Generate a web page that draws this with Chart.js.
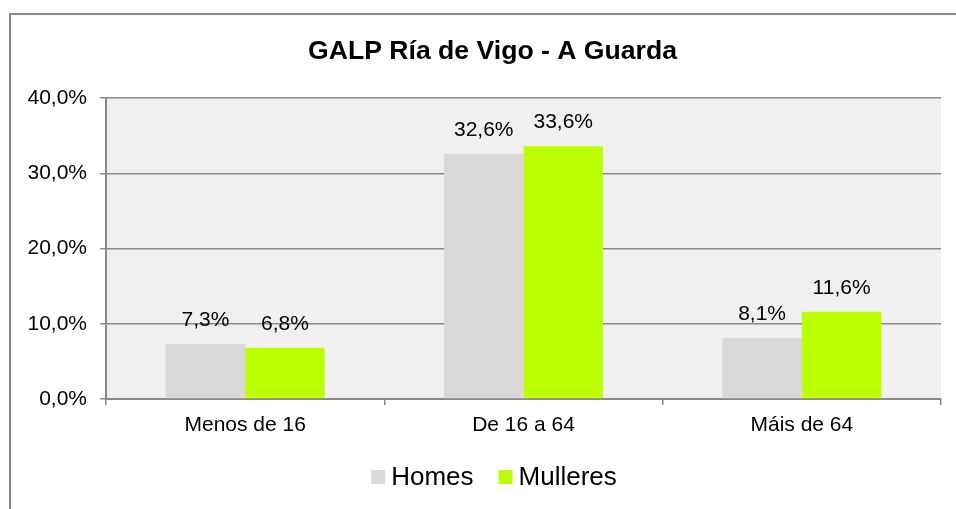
<!DOCTYPE html>
<html>
<head>
<meta charset="utf-8">
<script src="https://cdn.jsdelivr.net/npm/chart.js@4"></script>
<style>
  html, body { margin: 0; padding: 0; background: #ffffff; }
  canvas { display: block; }
</style>
</head>
<body>
<canvas id="c" width="956" height="509"></canvas>
<script>
const titleText = 'GALP Ría de Vigo - A Guarda';
const categories = ['Menos de 16', 'De 16 a 64', 'Máis de 64'];
const seriesNames = ['Homes', 'Mulleres'];
const homes = [7.3, 32.6, 8.1];
const mulleres = [6.8, 33.6, 11.6];
const yTicks = [0, 10, 20, 30, 40];
const colors = ['#d9d9d9', '#bbff00'];

const FONT = "'Liberation Sans', Arial, Helvetica, sans-serif";
const fmt = v => v.toFixed(1).replace('.', ',') + '%';

const framePlugin = {
  id: 'frame',
  beforeDraw(chart) {
    const ctx = chart.ctx;
    const a = chart.chartArea;
    ctx.save();
    ctx.fillStyle = '#ffffff';
    ctx.fillRect(0, 0, chart.width, chart.height);
    ctx.strokeStyle = '#8a8a8a';
    ctx.lineWidth = 2;
    ctx.strokeRect(10, 14, chart.width + 20, chart.height + 20);
    ctx.fillStyle = '#f0f0f0';
    ctx.fillRect(a.left, a.top, a.right - a.left, a.bottom - a.top);
    ctx.restore();
  }
};

const titlePlugin = {
  id: 'customTitle',
  afterDraw(chart) {
    const ctx = chart.ctx;
    ctx.save();
    ctx.font = 'bold 26.6px ' + FONT;
    ctx.fillStyle = '#000000';
    ctx.textAlign = 'center';
    ctx.textBaseline = 'middle';
    ctx.fillText(titleText, 492.5, 52);
    ctx.restore();
  }
};

const labelPlugin = {
  id: 'valueLabels',
  afterDatasetsDraw(chart) {
    const ctx = chart.ctx;
    ctx.save();
    ctx.font = '21px ' + FONT;
    ctx.fillStyle = '#000000';
    ctx.textAlign = 'center';
    ctx.textBaseline = 'middle';
    chart.data.datasets.forEach((ds, di) => {
      const meta = chart.getDatasetMeta(di);
      meta.data.forEach((bar, i) => {
        ctx.fillText(fmt(ds.data[i]), bar.x, bar.y - 23.5);
      });
    });
    ctx.restore();
  }
};

const legendPlugin = {
  id: 'customLegend',
  afterDraw(chart) {
    const ctx = chart.ctx;
    ctx.save();
    ctx.font = '26px ' + FONT;
    ctx.textBaseline = 'middle';
    ctx.textAlign = 'left';
    const box = 14, gapText = 6, gapItem = 25;
    const cy = 477;
    let total = 0;
    chart.data.datasets.forEach((ds, i) => {
      total += box + gapText + ctx.measureText(ds.label).width;
      if (i > 0) total += gapItem;
    });
    let x = 494 - total / 2;
    chart.data.datasets.forEach((ds) => {
      ctx.fillStyle = ds.backgroundColor;
      ctx.fillRect(x, cy - box / 2, box, box);
      x += box + gapText;
      ctx.fillStyle = '#000000';
      ctx.fillText(ds.label, x, cy + 1);
      x += ctx.measureText(ds.label).width + gapItem;
    });
    ctx.restore();
  }
};

new Chart(document.getElementById('c'), {
  type: 'bar',
  data: {
    labels: categories,
    datasets: [
      { label: seriesNames[0], data: homes, backgroundColor: colors[0] },
      { label: seriesNames[1], data: mulleres, backgroundColor: colors[1] }
    ]
  },
  options: {
    responsive: false,
    animation: false,
    devicePixelRatio: 1,
    layout: { padding: { top: 98, left: 0, right: 15, bottom: 60 } },
    datasets: { bar: { categoryPercentage: 2 / 3.5, barPercentage: 1.0 } },
    plugins: {
      legend: { display: false },
      tooltip: { enabled: false },
      title: { display: false }
    },
    scales: {
      x: {
        offset: true,
        grid: {
          display: true, drawOnChartArea: false, drawTicks: true,
          tickLength: 6, color: '#8a8a8a', lineWidth: 1.5, offset: true
        },
        border: { display: true, color: '#8a8a8a', width: 2 },
        ticks: { color: '#000000', font: { family: FONT, size: 21 }, padding: 8, maxRotation: 0 },
        afterFit(scale) { scale.height = 50; }
      },
      y: {
        min: 0, max: 40,
        afterBuildTicks(scale) { scale.ticks = yTicks.map(v => ({ value: v })); },
        grid: { color: '#8a8a8a', lineWidth: 1.5, tickLength: 6, drawTicks: true },
        border: { display: true, color: '#8a8a8a', width: 2 },
        ticks: {
          color: '#000000', font: { family: FONT, size: 21 }, padding: 13,
          callback: v => fmt(v)
        },
        afterFit(scale) { scale.width = 106; }
      }
    }
  },
  plugins: [framePlugin, titlePlugin, labelPlugin, legendPlugin]
});
</script>
</body>
</html>
